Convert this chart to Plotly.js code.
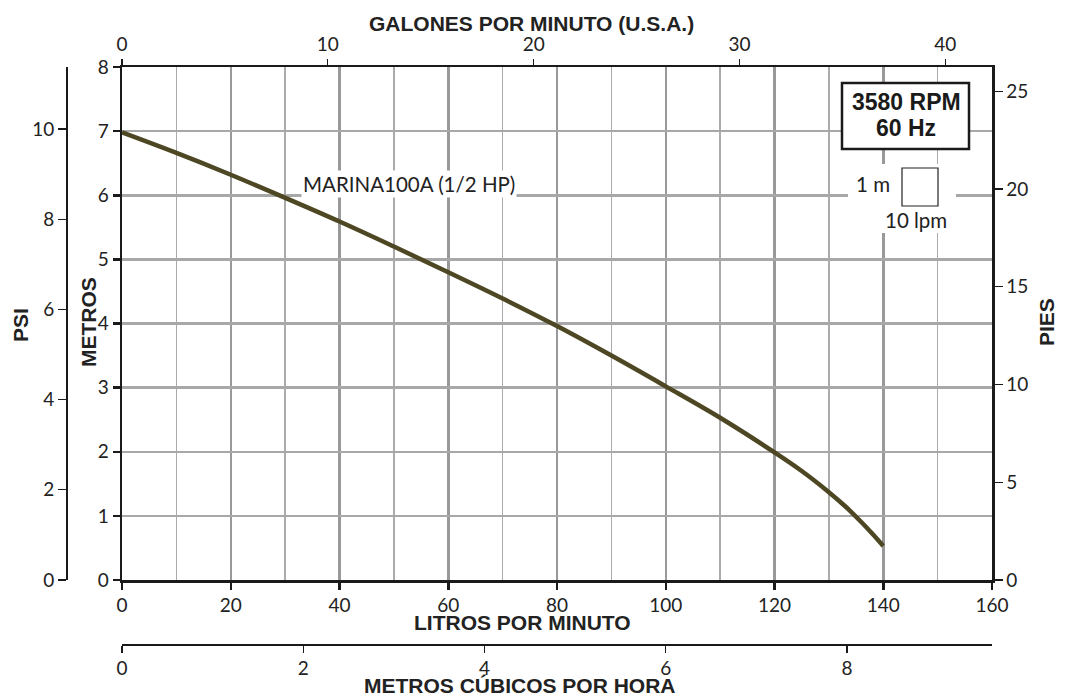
<!DOCTYPE html>
<html>
<head>
<meta charset="utf-8">
<script src="https://cdn.plot.ly/plotly-3.0.1.min.js"></script>
<style>html,body{margin:0;padding:0;background:#fff;}#chart{width:1065px;height:696px;}</style>
</head>
<body>
<div id="chart"></div>
<script>
// ---- data ----
const flowLpm = [0, 10, 20, 30, 40, 50, 60, 70, 80, 90, 100, 110, 120, 125, 130, 133, 136, 138, 140];
const headM   = [6.98, 6.66, 6.32, 5.96, 5.59, 5.20, 4.80, 4.39, 3.96, 3.50, 3.02, 2.53, 1.99, 1.70, 1.37, 1.15, 0.90, 0.72, 0.53];
const seriesName = "MARINA100A (1/2 HP)";
const lpmTicks = [0, 20, 40, 60, 80, 100, 120, 140, 160];
const galTicks = [0, 10, 20, 30, 40];
const m3hTicks = [0, 2, 4, 6, 8];
const meterTicks = [0, 1, 2, 3, 4, 5, 6, 7, 8];
const psiTicks = [0, 2, 4, 6, 8, 10];
const feetTicks = [0, 5, 10, 15, 20, 25];
const speedLabel = ["3580 RPM", "60 Hz"];

// unit conversions
const LPM_PER_GPM = 3.78541;
const PSI_PER_M = 1.42197;
const FT_PER_M = 3.28084;
const LPM_PER_M3H = 1000 / 60;

const W = 1065, H = 696;
const px = v => v / W, py = v => 1 - v / H;
const xDom = [px(122), px(992)];
const yDom = [py(580), py(67)];
const xMax = 160, yMax = 8;

const tickFont = {family: "Lato, Carlito, 'Open Sans', sans-serif", size: 19, color: "#222"};
const labelFont = {family: "Lato, Carlito, 'Open Sans', sans-serif", size: 20.5, color: "#222"};
const titleFont = {family: "'Liberation Sans', Arial, sans-serif", size: 21, color: "#222", weight: "bold"};
const boxFont = {family: "'Liberation Sans', Arial, sans-serif", size: 23, color: "#1a1a1a", weight: "bold"};

const traces = [
  {x: flowLpm, y: headM, type: "scatter", mode: "lines", name: seriesName,
   line: {color: "#4d4723", width: 4.5, shape: "spline", smoothing: 1},
   xaxis: "x", yaxis: "y", hoverinfo: "x+y", showlegend: false},
  {x: [], y: [], xaxis: "x2", yaxis: "y", showlegend: false, hoverinfo: "skip"},
  {x: [], y: [], xaxis: "x", yaxis: "y2", showlegend: false, hoverinfo: "skip"},
  {x: [], y: [], xaxis: "x", yaxis: "y3", showlegend: false, hoverinfo: "skip"},
  {x: [], y: [], xaxis: "x3", yaxis: "y", showlegend: false, hoverinfo: "skip"}
];

const axisCommon = {showline: true, linecolor: "#1a1a1a", zeroline: false, ticks: "outside", tickcolor: "#1a1a1a", tickfont: tickFont, fixedrange: true};

const layout = {
  width: W, height: H,
  margin: {l: 0, r: 0, t: 0, b: 0},
  paper_bgcolor: "#fff", plot_bgcolor: "#fff",
  showlegend: false,
  xaxis: Object.assign({}, axisCommon, {
    domain: xDom, range: [0, xMax], anchor: "y", side: "bottom",
    tickvals: lpmTicks, linewidth: 2.5, ticklen: 7, tickwidth: 2.5,
    showgrid: true, gridcolor: "#999999", gridwidth: 2.5,
    minor: {dtick: 10, showgrid: true, gridcolor: "#ababab", gridwidth: 1.5, ticks: ""}
  }),
  yaxis: Object.assign({}, axisCommon, {
    domain: yDom, range: [0, yMax], anchor: "x", side: "left",
    tickvals: meterTicks, linewidth: 2.5, ticklen: 7, tickwidth: 2.5,
    showgrid: true, gridcolor: "#a8a8a8", gridwidth: 2.5
  }),
  xaxis2: Object.assign({}, axisCommon, {
    overlaying: "x", anchor: "y", side: "top",
    range: [0, xMax / LPM_PER_GPM], tickvals: galTicks,
    linewidth: 2.5, ticklen: 6, tickwidth: 1.2, showgrid: false
  }),
  yaxis2: Object.assign({}, axisCommon, {
    overlaying: "y", anchor: "x", side: "right",
    range: [0, yMax * FT_PER_M], tickvals: feetTicks,
    linewidth: 2.5, ticklen: 8, tickwidth: 1.2, showgrid: false
  }),
  yaxis3: Object.assign({}, axisCommon, {
    overlaying: "y", anchor: "free", position: px(66), side: "left",
    range: [0, yMax * PSI_PER_M], tickvals: psiTicks,
    linewidth: 1.5, ticklen: 8, tickwidth: 1.2, showgrid: false
  }),
  xaxis3: Object.assign({}, axisCommon, {
    overlaying: "x", anchor: "free", position: py(644), side: "bottom",
    range: [0, xMax / LPM_PER_M3H], tickvals: m3hTicks,
    linewidth: 1.5, ticklen: 7, tickwidth: 1.2, showgrid: false
  }),
  shapes: [
    // white patch behind scale legend
    {type: "rect", xref: "paper", yref: "paper", x0: px(848), x1: px(956), y0: py(233), y1: py(164),
     fillcolor: "#fff", line: {width: 0}, layer: "above"},
    // small scale square
    {type: "rect", xref: "paper", yref: "paper", x0: px(902), x1: px(938), y0: py(206), y1: py(168),
     fillcolor: "#fff", line: {color: "#222", width: 1.2}, layer: "above"},
    // speed box
    {type: "rect", xref: "paper", yref: "paper", x0: px(842), x1: px(969), y0: py(149), y1: py(83),
     fillcolor: "#fff", line: {color: "#1a1a1a", width: 2.5}, layer: "above"}
  ],
  annotations: [
    {xref: "paper", yref: "paper", x: px(531), y: py(23), text: "GALONES POR MINUTO (U.S.A.)", showarrow: false, font: titleFont, xanchor: "center", yanchor: "middle"},
    {xref: "paper", yref: "paper", x: px(522), y: py(622), text: "LITROS POR MINUTO", showarrow: false, font: titleFont, xanchor: "center", yanchor: "middle"},
    {xref: "paper", yref: "paper", x: px(520), y: py(685), text: "METROS CÚBICOS POR HORA", showarrow: false, font: titleFont, xanchor: "center", yanchor: "middle"},
    {xref: "paper", yref: "paper", x: px(20), y: py(325), text: "PSI", textangle: -90, showarrow: false, font: titleFont, xanchor: "center", yanchor: "middle"},
    {xref: "paper", yref: "paper", x: px(88), y: py(322), text: "METROS", textangle: -90, showarrow: false, font: titleFont, xanchor: "center", yanchor: "middle"},
    {xref: "paper", yref: "paper", x: px(1046), y: py(322), text: "PIES", textangle: -90, showarrow: false, font: titleFont, xanchor: "center", yanchor: "middle"},
    {xref: "x", yref: "y", x: 33, y: 6.18, text: seriesName, showarrow: false, xanchor: "left", yanchor: "middle",
     bgcolor: "#fff", font: labelFont, borderpad: 1},
    {xref: "paper", yref: "paper", x: px(906), y: py(102), text: speedLabel[0], showarrow: false,
     xanchor: "center", yanchor: "middle", font: boxFont},
    {xref: "paper", yref: "paper", x: px(906), y: py(128), text: speedLabel[1], showarrow: false,
     xanchor: "center", yanchor: "middle", font: boxFont},
    {xref: "paper", yref: "paper", x: px(873), y: py(184), text: "1 m", showarrow: false, xanchor: "center", yanchor: "middle", font: labelFont},
    {xref: "paper", yref: "paper", x: px(916), y: py(220), text: "10 lpm", showarrow: false, xanchor: "center", yanchor: "middle", font: labelFont}
  ]
};

Plotly.newPlot("chart", traces, layout, {staticPlot: true, displayModeBar: false});
</script>
</body>
</html>
